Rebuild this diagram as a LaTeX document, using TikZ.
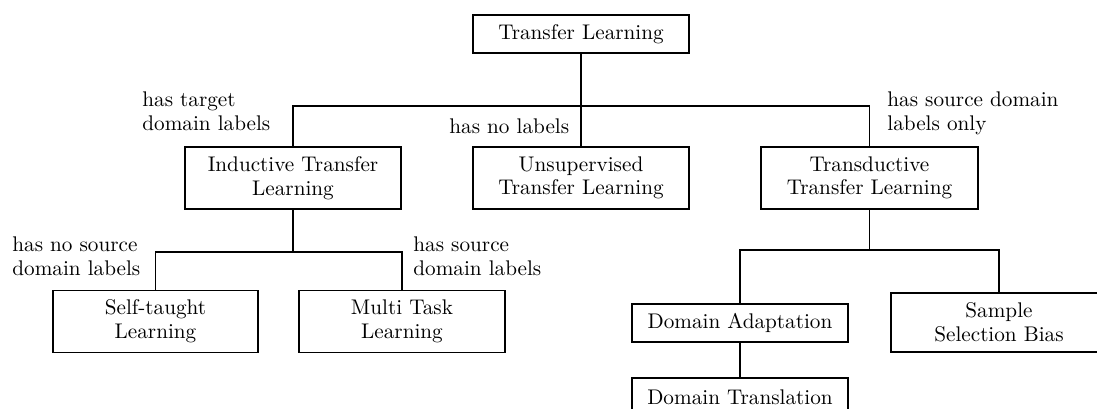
\documentclass[tikz,border=0pt]{standalone}
\usepackage{tikz}
\begin{document}
\begin{tikzpicture}[x={(0.5pt,0)}, y={(0,-0.5pt)},
  every node/.style={font=\fontsize{10.6pt}{11.8pt}\selectfont},
  box/.style={draw, line width=0.9pt, inner sep=0pt, align=center,
    minimum width=108pt},
  onebox/.style={box, minimum height=19pt},
  twobox/.style={box, minimum height=31pt},
  note/.style={align=left, inner sep=0pt, anchor=base west},
  link/.style={line width=0.9pt}]
\useasboundingbox (0,0) rectangle (1097,408);

% tree nodes
\node[onebox] (tl)  at (581,34)      {Transfer Learning};
\node[twobox] (ind) at (293,178)     {Inductive Transfer\\Learning};
\node[twobox] (uns) at (581,178)     {Unsupervised\\Transfer Learning};
\node[twobox, minimum width=108.5pt] (trd) at (869.5,178) {Transductive\\Transfer Learning};
\node[twobox, minimum width=102.5pt] (self)  at (155.5,321.5) {Self-taught\\Learning};
\node[twobox, minimum width=103pt] (multi) at (402,321.5) {Multi Task\\Learning};
\node[onebox] (da)  at (740,323)     {Domain Adaptation};
\node[onebox] (dt)  at (740,397)     {Domain Translation};
\node[twobox, minimum height=29.5pt] (ssb) at (999,322.5) {Sample\\Selection Bias};

% branch points
\coordinate (j1) at (581,106);
\coordinate (j2) at (293,252);
\coordinate (j3) at (869.5,250);

% connectors
\draw[link] (tl.south) -- (j1);
\draw[link] (ind.north) |- (j1) -| (trd.north);
\draw[link] (j1) -- (uns.north);
\draw[link] (ind.south) -- (j2);
\draw[link] (self.north) |- (j2) -| (multi.north);
\draw[link] (trd.south) -- (j3);
\draw[link] (da.north) |- (j3) -| (ssb.north);
\draw[link] (da.south) -- (dt.north);

% branch labels (base anchor sits on the last line)
\node[note] (l1) at (142,130) {has target\\domain labels};
\node[note] (l2) at (449,133) {has no labels};
\node[note] (l3) at (887,130) {has source domain\\labels only};
\node[note] (l4) at (12,275)  {has no source\\domain labels};
\node[note] (l5) at (413,275) {has source\\domain labels};
\end{tikzpicture}
\end{document}
